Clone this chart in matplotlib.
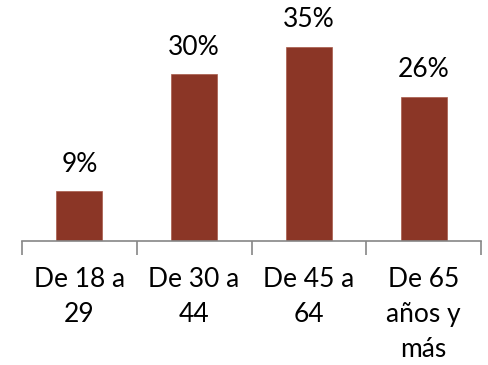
import matplotlib
matplotlib.use('Agg')
import matplotlib.pyplot as plt
import numpy as np

plt.rcParams['font.family'] = ['Lato', 'DejaVu Sans']

categories = ['De 18 a\n29', 'De 30 a\n44', 'De 45 a\n64', 'De 65\naños y\nmás']
values = [9, 30, 35, 26]
labels = ['9%', '30%', '35%', '26%']

bar_color = '#8B3626'
axis_color = '#868686'

fig = plt.figure(figsize=(4.88, 3.65), dpi=100)
ax = fig.add_axes([22 / 488, 1 - 241 / 365, (481 - 22) / 488, 241 / 365])

x = np.arange(len(values))
bars = ax.bar(x, values, width=0.4, color=bar_color, edgecolor='#A85A4A', linewidth=0.5)

for xi, v, lab in zip(x, values, labels):
    ax.text(xi, v + 2.6, lab, ha='center', va='bottom', fontsize=19, color='black')

ax.set_xlim(-0.5, len(values) - 0.5)
ax.set_ylim(0, 43.4)

for s in ['top', 'right', 'left']:
    ax.spines[s].set_visible(False)
ax.spines['bottom'].set_color(axis_color)
ax.spines['bottom'].set_linewidth(1.2)
ax.set_yticks([])

ax.set_xticks(x)
ax.set_xticklabels(categories, fontsize=19, linespacing=1.5)
ax.tick_params(axis='x', which='major', length=0, pad=19)
ax.set_xticks(np.arange(-0.5, len(values)), minor=True)
ax.tick_params(axis='x', which='minor', length=10, color=axis_color, width=1.2)

fig.savefig('out.png', dpi=100)
